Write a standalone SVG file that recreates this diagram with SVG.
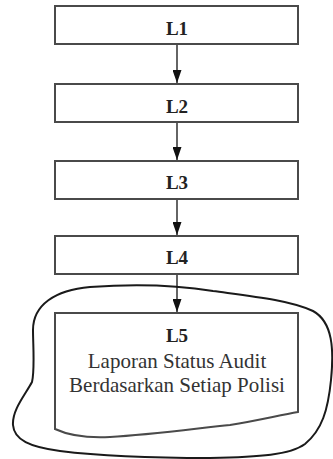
<svg xmlns="http://www.w3.org/2000/svg" width="333" height="459" viewBox="0 0 333 459">
<style>
.box{fill:#fff;stroke:#4a4a4a;stroke-width:2}
.lbl{font-family:"Liberation Serif","Times New Roman",serif;font-weight:bold;font-size:19px;fill:#222;text-anchor:middle}
.txt{font-family:"Liberation Serif","Times New Roman",serif;font-size:21px;fill:#333;text-anchor:middle}
.conn{stroke:#111;stroke-width:1.3;fill:none}
.blob{fill:none;stroke:#1a1a1a;stroke-width:2}
</style>
<defs>
<marker id="ah" markerUnits="userSpaceOnUse" markerWidth="9" markerHeight="13" refX="9" refY="6.5" orient="auto">
<path d="M0,2.5 L9,6.5 L0,10.5 Z" fill="#111"/>
</marker>
<marker id="ah2" markerUnits="userSpaceOnUse" viewBox="0 0 13 9" markerWidth="13" markerHeight="9" refX="13" refY="4.5" orient="auto">
<path d="M0,0 L13,4.5 L0,9 Z" fill="#111"/>
</marker>
</defs>
<rect width="333" height="459" fill="#fff"/>
<path class="blob" d="M33,330 C33,305 55,290 90,287 C130,284 170,284 213,291 C250,296 290,300 313,311 C333,322 334,350 331,380 C328,410 322,430 305,444 C290,455 260,457 210,458 C160,458 100,456 60,451 C30,447 14,440 13,425 C12,410 25,395 32,382 C35,370 33,345 33,330 Z"/>
<g id="connectors">
<line class="conn" x1="177" y1="44" x2="177" y2="83" marker-end="url(#ah2)"/>
<line class="conn" x1="177" y1="122" x2="177" y2="160" marker-end="url(#ah2)"/>
<line class="conn" x1="177" y1="199" x2="177" y2="235" marker-end="url(#ah2)"/>
<line class="conn" x1="177" y1="274" x2="177" y2="312" marker-end="url(#ah2)"/>
</g>
<g id="L1">
<rect class="box" x="55" y="6" width="243" height="38"/>
<text class="lbl" x="177" y="35">L1</text>
</g>
<g id="L2">
<rect class="box" x="55" y="84" width="243" height="38"/>
<text class="lbl" x="177" y="113">L2</text>
</g>
<g id="L3">
<rect class="box" x="55" y="161" width="243" height="38"/>
<text class="lbl" x="177" y="189">L3</text>
</g>
<g id="L4">
<rect class="box" x="55" y="236" width="243" height="38"/>
<text class="lbl" x="177" y="264">L4</text>
</g>
<g id="L5">
<path class="box" d="M55,313 L298,313 L298,412 C280,415 260,420 230,425 C200,428 150,435 110,437 C90,438 70,436 55,429 Z"/>
<text class="lbl" x="177" y="342">L5</text>
<text class="txt" x="177" y="368">Laporan Status Audit</text>
<text class="txt" x="177" y="392">Berdasarkan Setiap Polisi</text>
</g>
</svg>
